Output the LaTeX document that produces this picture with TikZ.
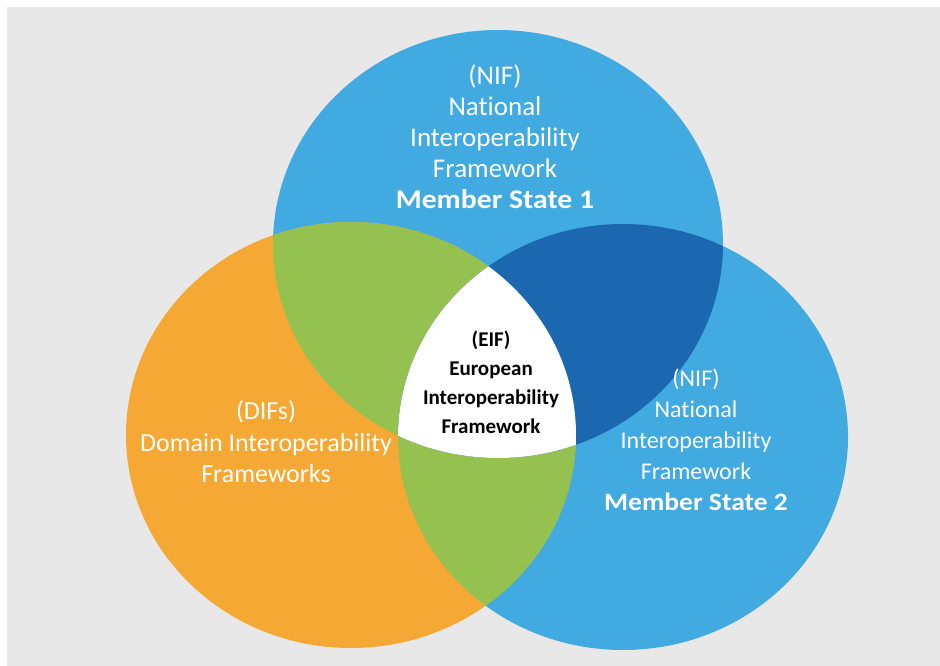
\documentclass[tikz,border=0pt]{standalone}
\usepackage{fontspec}
\setmainfont{Carlito}[Ligatures=NoCommon]
\newfontfamily\cbold{Carlito}[FakeStretch=1.1,Ligatures=NoCommon]
\definecolor{lblue}{HTML}{41AAE1}
\definecolor{dblue}{HTML}{1B68B0}
\definecolor{orng}{HTML}{F5A833}
\definecolor{grn}{HTML}{95C150}
\definecolor{bggray}{HTML}{E8E8E8}
\tikzset{
  lbl/.style={align=center, text=white, inner sep=0pt},
}
\begin{document}
\begin{tikzpicture}[x=1pt,y=-1pt]
\useasboundingbox (0,0) rectangle (940,666);
\fill[white] (0,0) rectangle (940,666);
\fill[bggray] (7,7) rectangle (940,666);
% base circles
\fill[lblue] (498,244) ellipse [x radius=225pt, y radius=214pt];
\fill[lblue] (623,437) ellipse [x radius=225pt, y radius=213pt];
\fill[orng] (351,435) ellipse [x radius=225pt, y radius=213pt];
% overlaps with the left circle
\begin{scope}
  \clip (351,435) ellipse [x radius=225pt, y radius=213pt];
  \fill[grn] (498,244) ellipse [x radius=225pt, y radius=214pt];
  \fill[grn] (623,437) ellipse [x radius=225pt, y radius=213pt];
\end{scope}
% top and right overlap
\begin{scope}
  \clip (498,244) ellipse [x radius=225pt, y radius=214pt];
  \fill[dblue] (623,437) ellipse [x radius=225pt, y radius=213pt];
\end{scope}
% centre
\begin{scope}
  \clip (498,244) ellipse [x radius=225pt, y radius=214pt];
  \clip (351,435) ellipse [x radius=225pt, y radius=213pt];
  \fill[white] (623,437) ellipse [x radius=225pt, y radius=213pt];
\end{scope}
% labels
\node[lbl, font=\fontsize{27}{31}\selectfont] (ntop) at (495,137)
  {(NIF)\\National\\Interoperability\\Framework\\{\cbold\bfseries Member State 1}};
\node[lbl, font=\fontsize{26}{31.5}\selectfont] (nleft) at (266,442)
  {(DIFs)\\Domain Interoperability\\Frameworks};
\node[lbl, font=\fontsize{24}{31}\selectfont] (nright) at (696,440)
  {(NIF)\\National\\Interoperability\\Framework\\{\fontsize{25}{31}\selectfont\cbold\bfseries Member State 2}};
\node[lbl, text=black, font=\fontsize{21}{29}\selectfont\bfseries] (ncenter) at (491,382)
  {(EIF)\\European\\Interoperability\\Framework};
\end{tikzpicture}
\end{document}
